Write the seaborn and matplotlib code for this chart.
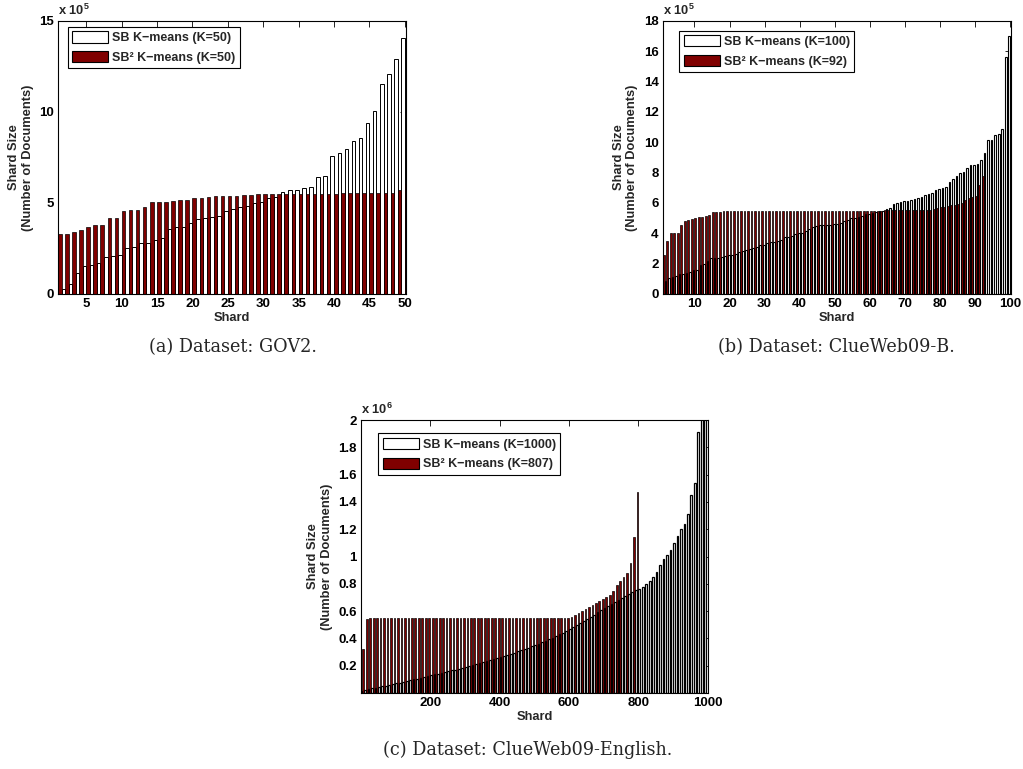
import numpy as np
import pandas as pd
import matplotlib
matplotlib.use("Agg")
import matplotlib.pyplot as plt
from matplotlib.patches import Patch
import seaborn as sns

# GOV2, K=50 for both methods (shard sizes in units of 10^5 documents)
gov2_sb = [0.1, 0.25, 0.57, 1.13, 1.52, 1.6, 1.72, 2.05, 2.07, 2.16,
           2.5, 2.6, 2.82, 2.82, 2.98, 3.1, 3.55, 3.66, 3.7, 3.88,
           4.13, 4.17, 4.24, 4.28, 4.54, 4.65, 4.76, 4.83, 4.98, 5.07,
           5.25, 5.34, 5.58, 5.69, 5.69, 5.84, 5.9, 6.44, 6.48, 7.6,
           7.75, 7.96, 8.41, 8.58, 9.4, 10.08, 11.54, 12.07, 12.9, 14.05]
gov2_sb2 = [3.3, 3.3, 3.4, 3.5, 3.7, 3.77, 3.77, 4.2, 4.2, 4.55,
            4.6, 4.6, 4.8, 5.03, 5.03, 5.07, 5.1, 5.14, 5.16, 5.25,
            5.27, 5.34, 5.36, 5.4, 5.41, 5.41, 5.45, 5.45, 5.47, 5.49,
            5.52, 5.52, 5.52, 5.52, 5.52, 5.52, 5.52, 5.52, 5.52, 5.52,
            5.53, 5.53, 5.53, 5.53, 5.53, 5.53, 5.53, 5.55, 5.69, 6.04]

# ClueWeb09-B, K=100 vs K=92 (units of 10^5 documents)
cwb_sb = [0.85, 0.85, 1.05, 1.1, 1.2, 1.3, 1.35, 1.4, 1.45, 1.55,
          1.6, 1.9, 2.0, 2.2, 2.35, 2.4, 2.4, 2.45, 2.5, 2.55,
          2.6, 2.65, 2.75, 2.85, 2.9, 2.95, 3.0, 3.1, 3.2, 3.25,
          3.35, 3.4, 3.45, 3.5, 3.55, 3.75, 3.75, 3.8, 3.95, 4.0,
          4.05, 4.15, 4.3, 4.4, 4.5, 4.52, 4.55, 4.55, 4.58, 4.6,
          4.62, 4.7, 4.8, 4.9, 5.0, 5.02, 5.1, 5.15, 5.25, 5.3,
          5.35, 5.4, 5.45, 5.5, 5.6, 5.7, 5.95, 6.0, 6.05, 6.1,
          6.15, 6.2, 6.25, 6.3, 6.4, 6.5, 6.6, 6.65, 6.85, 6.9,
          7.0, 7.05, 7.4, 7.6, 7.8, 8.0, 8.05, 8.3, 8.5, 8.5,
          8.55, 8.85, 9.3, 10.15, 10.15, 10.45, 10.55, 10.9, 15.6, 17.0]
cwb_sb2 = [2.6, 3.5, 4.0, 4.0, 4.0, 4.55, 4.8, 4.9, 4.95, 5.0,
           5.05, 5.1, 5.15, 5.2, 5.38, 5.4, 5.42, 5.45, 5.45, 5.45,
           5.45, 5.45, 5.45, 5.45, 5.45, 5.45, 5.45, 5.45, 5.45, 5.45,
           5.5, 5.5, 5.5, 5.5, 5.5, 5.5, 5.5, 5.5, 5.5, 5.5,
           5.5, 5.5, 5.5, 5.5, 5.5, 5.5, 5.5, 5.5, 5.5, 5.5,
           5.5, 5.5, 5.5, 5.5, 5.5, 5.5, 5.5, 5.5, 5.5, 5.5,
           5.5, 5.5, 5.5, 5.52, 5.52, 5.52, 5.52, 5.52, 5.52, 5.52,
           5.52, 5.52, 5.52, 5.52, 5.52, 5.52, 5.52, 5.6, 5.7, 5.72,
           5.75, 5.8, 5.85, 5.9, 5.95, 6.0, 6.2, 6.3, 6.4, 6.45,
           7.2, 7.75]

# ClueWeb09-English, K=1000 vs K=807, one bar per ten shards (units of 10^6 documents)
cwe_step = 10
cwe_sb = [0.015, 0.025, 0.03, 0.035, 0.04, 0.045, 0.05, 0.055, 0.06, 0.065,
          0.07, 0.076, 0.082, 0.088, 0.094, 0.1, 0.106, 0.112, 0.118, 0.124,
          0.13, 0.136, 0.142, 0.148, 0.154, 0.16, 0.166, 0.172, 0.178, 0.185,
          0.192, 0.2, 0.207, 0.214, 0.22, 0.227, 0.234, 0.241, 0.248, 0.255,
          0.262, 0.27, 0.278, 0.287, 0.296, 0.305, 0.314, 0.323, 0.332, 0.341,
          0.35, 0.36, 0.371, 0.382, 0.393, 0.405, 0.417, 0.43, 0.443, 0.456,
          0.47, 0.484, 0.499, 0.514, 0.529, 0.545, 0.56, 0.575, 0.59, 0.605,
          0.62, 0.635, 0.65, 0.665, 0.68, 0.695, 0.71, 0.725, 0.74, 0.755,
          0.765, 0.78, 0.8, 0.82, 0.85, 0.89, 0.94, 0.98, 1.01, 1.05,
          1.1, 1.15, 1.2, 1.24, 1.31, 1.45, 1.54, 1.91, 2.05, 2.1]
cwe_sb2 = [0.32, 0.54, 0.553, 0.553, 0.553, 0.553, 0.553, 0.553, 0.553, 0.553,
           0.553, 0.553, 0.553, 0.553, 0.553, 0.553, 0.553, 0.553, 0.553, 0.553,
           0.553, 0.553, 0.553, 0.553, 0.553, 0.553, 0.553, 0.553, 0.553, 0.553,
           0.553, 0.553, 0.553, 0.553, 0.553, 0.553, 0.553, 0.553, 0.553, 0.553,
           0.553, 0.553, 0.553, 0.553, 0.553, 0.553, 0.553, 0.553, 0.553, 0.553,
           0.553, 0.553, 0.553, 0.553, 0.553, 0.553, 0.553, 0.553, 0.553, 0.553,
           0.56, 0.57, 0.585, 0.6, 0.615, 0.63, 0.645, 0.66, 0.675, 0.69,
           0.7, 0.72, 0.75, 0.79, 0.82, 0.85, 0.88, 0.95, 1.14, 1.47]

WHITE = "#ffffff"
DARKRED = "#800000"

sns.set_style("white")
plt.rcParams.update({
    "font.family": ["Liberation Sans", "DejaVu Sans"],
    "font.weight": "bold",
    "axes.labelweight": "bold",
    "axes.edgecolor": "black",
    "axes.linewidth": 0.8,
    "xtick.color": "black",
    "ytick.color": "black",
    "mathtext.fontset": "custom",
    "mathtext.rm": "Liberation Sans",
    "mathtext.bf": "Liberation Sans:bold",
})

fig = plt.figure(figsize=(10.23, 7.69), dpi=100)


def shard_frame(sb, sb2, labels, start, step):
    x1 = start + step * np.arange(len(sb))
    x2 = start + step * np.arange(len(sb2))
    return pd.concat([
        pd.DataFrame({"shard": x1, "size": sb, "method": labels[0]}),
        pd.DataFrame({"shard": x2, "size": sb2, "method": labels[1]}),
    ], ignore_index=True)


def panel(rect, sb, sb2, labels, start, step, xlim, xticks, ylim, yticks,
          power, legend_xy, edge_sb, edge_sb2, sb_on_top):
    ax = fig.add_axes(rect)
    df = shard_frame(sb, sb2, labels, start, step)
    sns.barplot(data=df, x="shard", y="size", hue="method", hue_order=labels,
                palette=[WHITE, DARKRED], native_scale=True, width=1.0, gap=0,
                errorbar=None, saturation=1, edgecolor="black", linewidth=0.5,
                legend=False, ax=ax)
    # narrow bars: thicker outlines so the dense groups read as in print
    for bar in ax.containers[0]:
        bar.set_linewidth(edge_sb)
        if sb_on_top:
            bar.set_zorder(1.5)
    for bar in ax.containers[1]:
        bar.set_linewidth(edge_sb2)
    ax.set_xlim(*xlim)
    ax.set_ylim(*ylim)
    ax.set_xticks(xticks)
    ax.set_xticklabels(["%g" % t for t in xticks])
    ax.set_yticks(yticks)
    ax.set_yticklabels(["%g" % t for t in yticks])
    ax.tick_params(direction="in", top=True, right=True, length=4, width=0.6,
                   labelsize=9.5, pad=3)
    for sp in ax.spines.values():
        sp.set_visible(True)
        sp.set_color("black")
        sp.set_zorder(3)
    ax.set_xlabel("Shard", fontsize=9.3, labelpad=1)
    ax.set_ylabel("Shard Size\n(Number of Documents)", fontsize=9.3,
                  labelpad=4)
    ax.text(0.0, 1.012, r"x 10$^{\mathbf{%d}}$" % power, transform=ax.transAxes,
            ha="left", va="bottom", fontsize=9.3)
    handles = [Patch(facecolor=WHITE, edgecolor="black", linewidth=0.8),
               Patch(facecolor=DARKRED, edgecolor="black", linewidth=0.8)]
    leg = ax.legend(handles, labels, loc="upper left", bbox_to_anchor=legend_xy,
                    frameon=True, fancybox=False, edgecolor="black",
                    framealpha=1, fontsize=9, handlelength=2.9,
                    handleheight=1.0, borderpad=0.35, labelspacing=0.55,
                    handletextpad=0.3, borderaxespad=0)
    leg.get_frame().set_linewidth(0.8)
    leg.set_zorder(5)
    return ax


panel([0.0567, 0.6177, 0.340, 0.355], gov2_sb, gov2_sb2,
      ["SB K\u2212means (K=50)", "SB\u00b2 K\u2212means (K=50)"],
      1, 1, (1, 50.15), [5, 10, 15, 20, 25, 30, 35, 40, 45, 50],
      (0, 15), [0, 5, 10, 15], 5, (0.028, 0.978), 0.7, 0.5, False)

panel([0.648, 0.6177, 0.340, 0.355], cwb_sb, cwb_sb2,
      ["SB K\u2212means (K=100)", "SB\u00b2 K\u2212means (K=92)"],
      1, 1, (1, 100.2), [10, 20, 30, 40, 50, 60, 70, 80, 90, 100],
      (0, 18), [0, 2, 4, 6, 8, 10, 12, 14, 16, 18], 5, (0.047, 0.964),
      0.8, 0.5, True)

panel([0.3529, 0.0988, 0.339, 0.355], cwe_sb, cwe_sb2,
      ["SB K\u2212means (K=1000)", "SB\u00b2 K\u2212means (K=807)"],
      cwe_step // 2, cwe_step, (1, 1000), [200, 400, 600, 800, 1000],
      (0, 2), [0.2, 0.4, 0.6, 0.8, 1, 1.2, 1.4, 1.6, 1.8, 2], 6, (0.05, 0.951),
      0.9, 0.5, True)

cap_kw = dict(ha="center", va="center", fontsize=12.7, fontweight="normal",
              family=["DejaVu Serif"])
fig.text(233 / 1023, 1 - 347 / 769, "(a) Dataset: GOV2.", **cap_kw)
fig.text(836 / 1023, 1 - 347 / 769, "(b) Dataset: ClueWeb09-B.", **cap_kw)
fig.text(528 / 1023, 1 - 750 / 769, "(c) Dataset: ClueWeb09-English.", **cap_kw)

fig.savefig("out.png", dpi=100)
